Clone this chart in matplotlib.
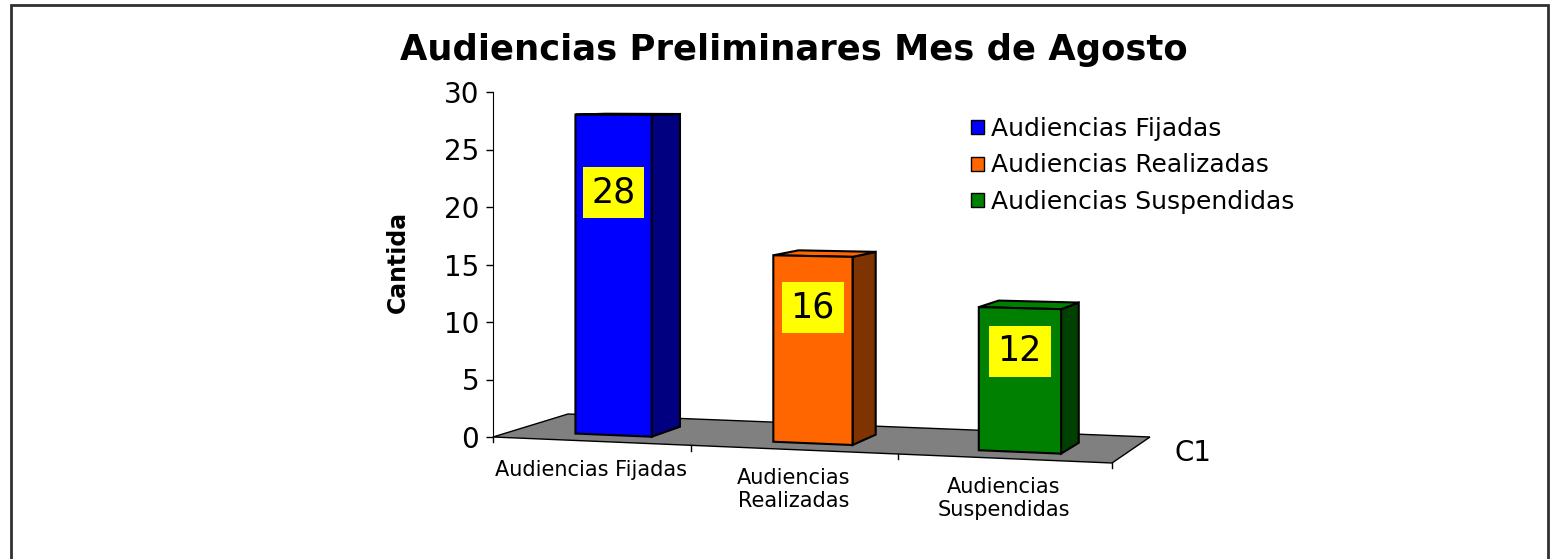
import matplotlib
matplotlib.use('Agg')
import numpy as np
import matplotlib.pyplot as plt
from matplotlib.patches import Patch, Rectangle

# Datos del gráfico
categorias = ['Audiencias Fijadas', 'Audiencias Realizadas', 'Audiencias Suspendidas']
etiquetas_x = ['Audiencias Fijadas', 'Audiencias\nRealizadas', 'Audiencias\nSuspendidas']
valores = [28, 16, 12]
colores_frente = ['#0000FF', '#FF6600', '#008000']
colores_lado = ['#000080', '#7F3300', '#004000']
yticks = [0, 5, 10, 15, 20, 25, 30]

W, H = 1555, 559
X0, Y0 = 493, 437   # pixel del origen (0, 0)
PX_CAT = 206.3      # pixeles por categoria
PX_VAL = 11.5       # pixeles por unidad de valor
HORIZONTE = 31      # altura de la camara (en unidades de valor)

# Esquinas del piso en pixeles: frente-izq, frente-der, fondo-der, fondo-izq
esquinas_px = [(493, 437), (1112, 463), (1150, 437), (568, 414)]
esquinas = [((px - X0) / PX_CAT, (Y0 - py) / PX_VAL) for px, py in esquinas_px]


def homografia(src, dst):
    A, b = [], []
    for (x, y), (u, v) in zip(src, dst):
        A.append([x, y, 1, 0, 0, 0, -u * x, -u * y])
        A.append([0, 0, 0, x, y, 1, -v * x, -v * y])
        b += [u, v]
    h = np.linalg.solve(np.array(A, float), np.array(b, float))
    return np.append(h, 1).reshape(3, 3)


n = len(valores)
M = homografia([(0, 0), (n, 0), (n, 1), (0, 1)], esquinas)


# Proyeccion en perspectiva (categoria, profundidad, valor) -> coordenadas de datos
def proyectar(x, z, v):
    p = M @ np.array([x, z, 1.0])
    u, yf = p[0] / p[2], p[1] / p[2]
    return u, yf + v * (HORIZONTE - yf) / HORIZONTE


def poligono(puntos):
    return [p[0] for p in puntos], [p[1] for p in puntos]


fig = plt.figure(figsize=(W / 100, H / 100), dpi=100)
fig.patch.set_facecolor('white')

# Ejes colocados para que el origen caiga en el pixel (X0, Y0)
xmin, xmax, ymin, ymax = -0.5, 3.5, -4, 32
left = X0 + xmin * PX_CAT
bottom_row = Y0 - ymin * PX_VAL
ax = fig.add_axes([left / W, (H - bottom_row) / H,
                   (xmax - xmin) * PX_CAT / W, (ymax - ymin) * PX_VAL / H])
ax.set_xlim(xmin, xmax)
ax.set_ylim(ymin, ymax)
ax.patch.set_alpha(0)

for s in ['top', 'right', 'bottom']:
    ax.spines[s].set_visible(False)
ax.spines['left'].set_position(('data', 0))
ax.spines['left'].set_bounds(0, 30)
ax.set_xticks([])
ax.set_yticks(yticks)
ax.tick_params(axis='y', direction='out', length=5, width=1, labelsize=20, pad=5)

# Piso gris
piso = [proyectar(0, 0, 0), proyectar(n, 0, 0), proyectar(n, 1, 0), proyectar(0, 1, 0)]
ax.fill(*poligono(piso), fc='#808080', ec='black', lw=1, zorder=1)

# Marcas de categoria en el borde frontal
for k in range(n + 1):
    x0, y0 = proyectar(k, 0, 0)
    ax.plot([x0, x0], [y0, y0 - 0.45], color='black', lw=1, zorder=1)

# Barras 3D
z0, z1 = 0.25, 0.67
for i, v in enumerate(valores):
    xl, xr = i + 0.325, i + 0.715
    frente = [proyectar(xl, z0, 0), proyectar(xr, z0, 0), proyectar(xr, z0, v), proyectar(xl, z0, v)]
    lado = [proyectar(xr, z0, 0), proyectar(xr, z1, 0), proyectar(xr, z1, v), proyectar(xr, z0, v)]
    tapa = [proyectar(xl, z0, v), proyectar(xr, z0, v), proyectar(xr, z1, v), proyectar(xl, z1, v)]
    for cara, col in [(lado, colores_lado[i]), (tapa, colores_frente[i]), (frente, colores_frente[i])]:
        ax.fill(*poligono(cara), fc=col, ec='black', lw=1.5, joinstyle='miter', zorder=3)
    # Etiqueta con el valor
    xc, yc = proyectar(i + 0.52, z0, 0.8 * v - 1.2)
    ax.text(xc, yc, str(v), ha='center', va='center', fontsize=25, zorder=5,
            bbox=dict(boxstyle='square,pad=0.25', fc='#FFFF00', ec='none'))
    # Etiqueta de categoria
    xt, yt = proyectar(i + 0.5, 0, 0)
    ax.text(xt, yt - 1.6, etiquetas_x[i], ha='center', va='top', fontsize=15,
            linespacing=1.2)

# Titulo, eje y, serie
fig.text(794 / W, 1 - 50 / H, 'Audiencias Preliminares Mes de Agosto', ha='center',
         va='center', fontsize=25.5, weight='bold')
fig.text(398 / W, 1 - 262 / H, 'Cantida', rotation=90, ha='center', va='center',
         fontsize=17, weight='bold')
fig.text(1193 / W, 1 - 453 / H, 'C1', ha='center', va='center', fontsize=20)

# Leyenda
handles = [Patch(fc=c, ec='black', lw=1) for c in colores_frente]
fig.legend(handles, categorias, loc='upper left', bbox_to_anchor=(971 / W, 1 - 117 / H),
           frameon=False, fontsize=18, handlelength=0.5, handleheight=0.5,
           handletextpad=0.3, labelspacing=0.5, borderpad=0, borderaxespad=0)

# Marco del grafico
fig.add_artist(Rectangle((11 / W, -0.05), (1548 - 11) / W, 1 - 5 / H + 0.05,
                         transform=fig.transFigure, fill=False, ec='#303030', lw=2))

fig.savefig('out.png', dpi=100)
